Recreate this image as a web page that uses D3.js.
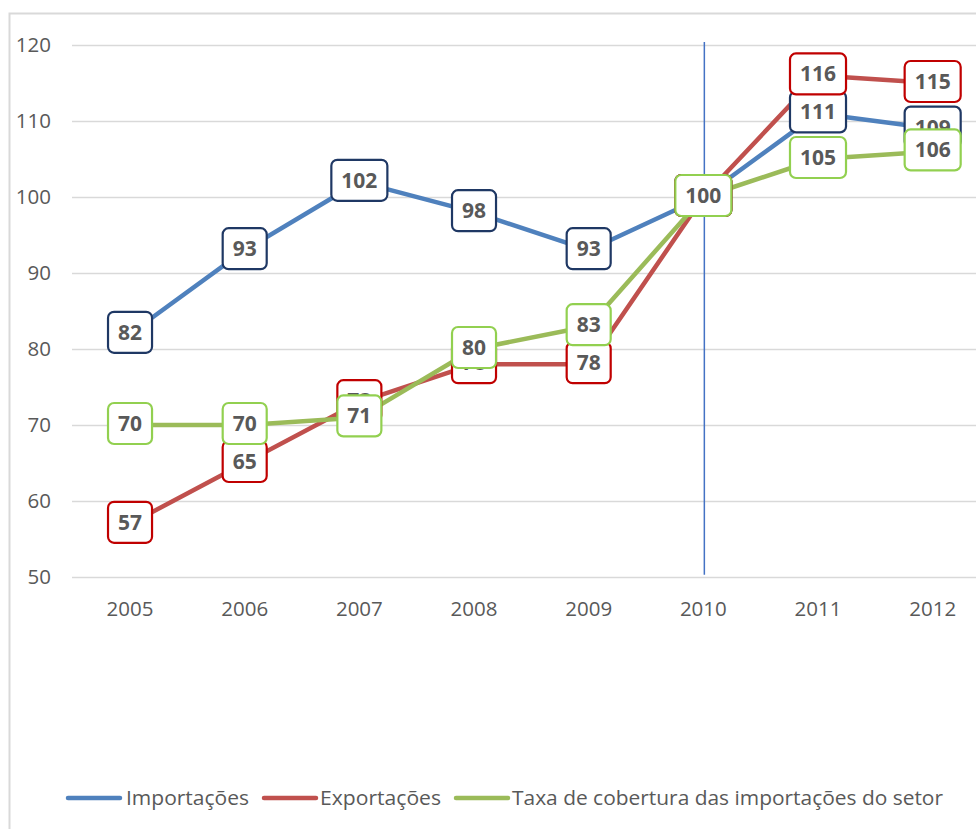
<!DOCTYPE html>
<html>
<head>
<meta charset="utf-8">
<script src="https://cdn.jsdelivr.net/npm/d3@7"></script>
<style>
  body { margin: 0; background: #fff; }
  text { font-family: "Open Sans", "Liberation Sans", sans-serif; }
</style>
</head>
<body>
<div id="app"></div>
<script>
const years = ["2005", "2006", "2007", "2008", "2009", "2010", "2011", "2012"];
const importacoes = [82, 93, 102, 98, 93, 100, 111, 109];
const exportacoes = [57, 65, 73, 78, 78, 100, 116, 115];
const taxa = [70, 70, 71, 80, 83, 100, 105, 106];
const yTicks = [50, 60, 70, 80, 90, 100, 110, 120];

const series = [
  { name: "Importações", values: importacoes, line: "#4f81bd", box: "#1f3864" },
  { name: "Exportações", values: exportacoes, line: "#c0504d", box: "#c00000" },
  { name: "Taxa de cobertura das importações do setor", values: taxa, line: "#9bbb59", box: "#92d050" }
];

const width = 976, height = 829;
const svg = d3.select("#app").append("svg")
  .attr("width", width)
  .attr("height", height);

// chart frame
svg.append("rect")
  .attr("x", 9.5).attr("y", 13.5)
  .attr("width", 1000).attr("height", 1000)
  .attr("fill", "none")
  .attr("stroke", "#d9d9d9")
  .attr("stroke-width", 2);

const x = d3.scalePoint().domain(years).range([72.7, 990]).padding(0.5);
const y = d3.scaleLinear().domain([50, 120]).range([577, 45]);

// gridlines
svg.append("g")
  .selectAll("line")
  .data(yTicks)
  .join("line")
  .attr("x1", 72).attr("x2", width)
  .attr("y1", d => Math.round(y(d)) + 0.5)
  .attr("y2", d => Math.round(y(d)) + 0.5)
  .attr("stroke", "#d9d9d9")
  .attr("stroke-width", 1.3);

// y axis labels
svg.append("g")
  .selectAll("text")
  .data(yTicks)
  .join("text")
  .attr("x", 51)
  .attr("y", d => y(d))
  .attr("dy", "0.35em")
  .attr("text-anchor", "end")
  .attr("fill", "#595959")
  .style("font-size", "20.5px")
  .text(d => d);

// x axis labels
svg.append("g")
  .selectAll("text")
  .data(years)
  .join("text")
  .attr("x", d => x(d))
  .attr("y", 609)
  .attr("dy", "0.35em")
  .attr("text-anchor", "middle")
  .attr("fill", "#595959")
  .style("font-size", "20.5px")
  .text(d => d);

// lines
const line = d3.line()
  .x((d, i) => x(years[i]))
  .y(d => y(d));

svg.append("g")
  .selectAll("path")
  .data(series)
  .join("path")
  .attr("d", s => line(s.values))
  .attr("fill", "none")
  .attr("stroke", s => s.line)
  .attr("stroke-width", 4.5)
  .attr("stroke-linejoin", "round")
  .attr("stroke-linecap", "round");

// vertical marker at 2010
svg.append("line")
  .attr("x1", x("2010") + 1).attr("x2", x("2010") + 1)
  .attr("y1", y(120.4)).attr("y2", y(50.3))
  .attr("stroke", "#4472c4")
  .attr("stroke-width", 1.5);

// data labels (later series sit on top, as in the original)
series.forEach(s => {
  const g = svg.append("g");
  s.values.forEach((v, i) => {
    const cx = x(years[i]), cy = y(v);
    const lab = g.append("g").attr("transform", `translate(${cx},${cy - 1.5})`);
    const rect = lab.append("rect");
    const t = lab.append("text")
      .attr("text-anchor", "middle")
      .attr("dy", "0.36em")
      .attr("fill", "#595959")
      .style("font-size", "21px")
      .style("font-weight", "bold")
      .text(v);
    const w = t.node().getComputedTextLength() + 20;
    rect.attr("x", -w / 2).attr("y", -20.5)
      .attr("width", w).attr("height", 41)
      .attr("rx", 6)
      .attr("fill", "#fff")
      .attr("stroke", s.box)
      .attr("stroke-width", 2.2);
  });
});

// legend
const legendPos = [
  { x0: 66, tx: 126, tw: 123 },
  { x0: 262, tx: 320, tw: 121 },
  { x0: 454, tx: 512, tw: 431 }
];
const legend = svg.append("g").attr("transform", "translate(0,798)");
series.forEach((s, i) => {
  const p = legendPos[i];
  legend.append("line")
    .attr("x1", p.x0 + 2).attr("x2", p.x0 + 54)
    .attr("y1", 0).attr("y2", 0)
    .attr("stroke", s.line)
    .attr("stroke-width", 4.5)
    .attr("stroke-linecap", "round");
  legend.append("text")
    .attr("x", p.tx)
    .attr("dy", "0.35em")
    .attr("fill", "#595959")
    .attr("textLength", p.tw)
    .attr("lengthAdjust", "spacingAndGlyphs")
    .style("font-size", "20px")
    .text(s.name);
});
</script>
</body>
</html>
